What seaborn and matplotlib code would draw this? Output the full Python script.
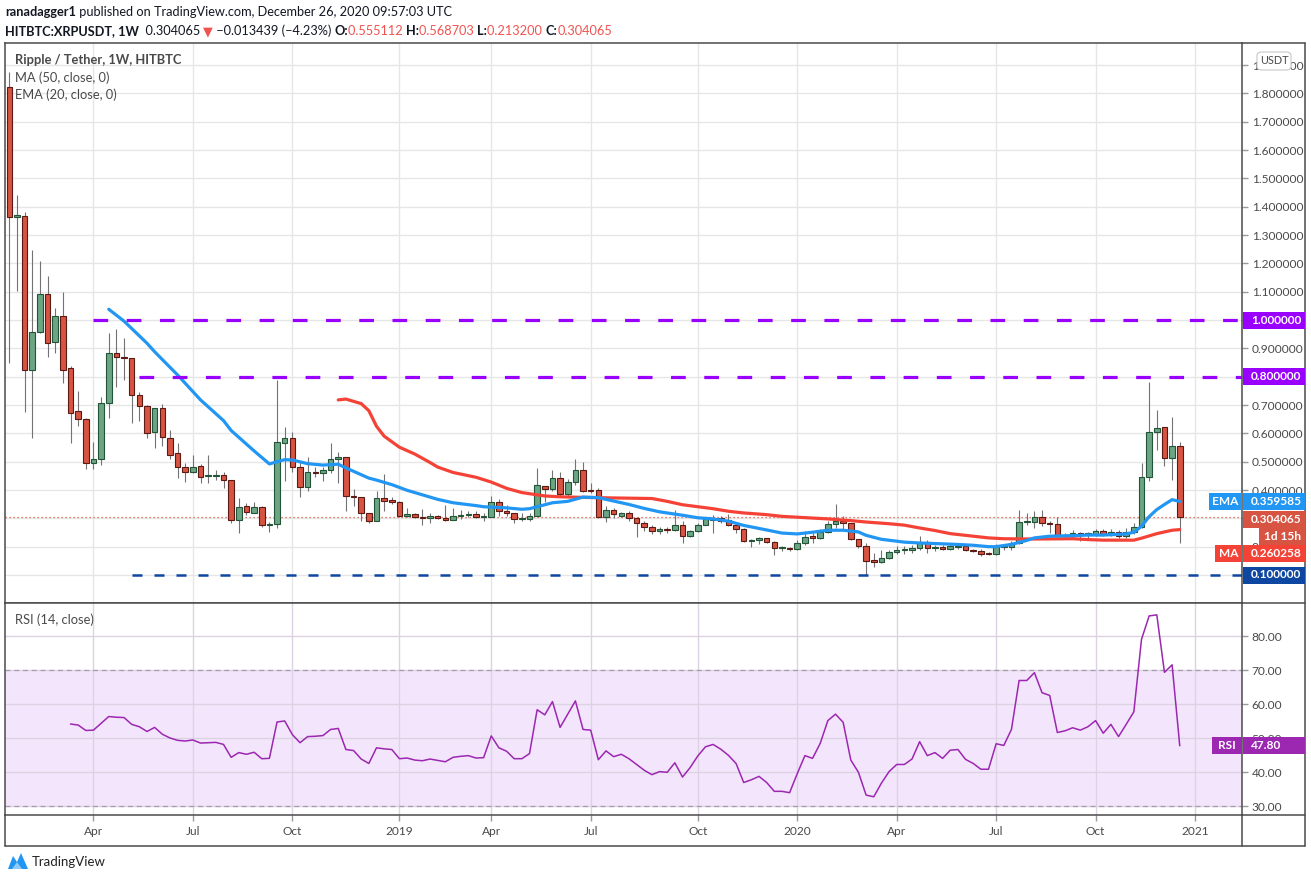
import numpy as np
import pandas as pd
import matplotlib
matplotlib.use('Agg')
import matplotlib.pyplot as plt
import seaborn as sns
from matplotlib.patches import Rectangle, Polygon, FancyBboxPatch

# ---------------- data ----------------
start_week = '2018-01-15'
opens = [1.821, 1.365, 1.368, 0.824, 0.959, 1.091, 0.924, 1.014, 0.829, 0.679,
         0.651, 0.494, 0.508, 0.706, 0.882, 0.868, 0.865, 0.734, 0.696, 0.606,
         0.688, 0.582, 0.529, 0.480, 0.465, 0.485, 0.449, 0.451, 0.453, 0.435,
         0.294, 0.343, 0.320, 0.339, 0.276, 0.280, 0.567, 0.582, 0.480, 0.409,
         0.462, 0.459, 0.471, 0.508, 0.515, 0.380, 0.374, 0.318, 0.292, 0.371,
         0.365, 0.359, 0.309, 0.314, 0.304, 0.300, 0.307, 0.300, 0.295, 0.307,
         0.312, 0.314, 0.305, 0.306, 0.359, 0.326, 0.318, 0.298, 0.298, 0.308,
         0.413, 0.402, 0.441, 0.385, 0.427, 0.471, 0.400, 0.399, 0.305, 0.331,
         0.310, 0.318, 0.301, 0.283, 0.269, 0.255, 0.262, 0.258, 0.277, 0.236,
         0.256, 0.278, 0.295, 0.300, 0.293, 0.276, 0.262, 0.220, 0.225, 0.229,
         0.217, 0.195, 0.197, 0.193, 0.213, 0.236, 0.231, 0.252, 0.281, 0.292,
         0.284, 0.227, 0.201, 0.153, 0.145, 0.160, 0.180, 0.189, 0.189, 0.196,
         0.217, 0.195, 0.199, 0.192, 0.198, 0.204, 0.190, 0.185, 0.177, 0.174,
         0.198, 0.198, 0.213, 0.286, 0.286, 0.305, 0.284, 0.279, 0.238, 0.242,
         0.247, 0.241, 0.244, 0.256, 0.241, 0.252, 0.238, 0.253, 0.270, 0.447,
         0.606, 0.623, 0.514, 0.555112]
highs = [1.876, 1.441, 1.382, 1.247, 1.209, 1.155, 1.041, 1.099, 0.838, 0.750,
         0.655, 0.571, 0.729, 0.953, 0.967, 0.938, 0.865, 0.747, 0.700, 0.690,
         0.704, 0.612, 0.567, 0.494, 0.524, 0.492, 0.524, 0.471, 0.465, 0.435,
         0.371, 0.353, 0.356, 0.344, 0.288, 0.788, 0.624, 0.606, 0.500, 0.515,
         0.482, 0.480, 0.565, 0.535, 0.515, 0.404, 0.374, 0.320, 0.398, 0.456,
         0.376, 0.361, 0.337, 0.318, 0.332, 0.318, 0.313, 0.347, 0.335, 0.329,
         0.326, 0.326, 0.320, 0.379, 0.368, 0.347, 0.318, 0.318, 0.318, 0.476,
         0.413, 0.471, 0.462, 0.439, 0.509, 0.500, 0.424, 0.408, 0.343, 0.335,
         0.324, 0.327, 0.305, 0.289, 0.277, 0.271, 0.269, 0.328, 0.289, 0.260,
         0.282, 0.302, 0.313, 0.308, 0.317, 0.281, 0.266, 0.227, 0.233, 0.231,
         0.219, 0.201, 0.198, 0.225, 0.254, 0.249, 0.263, 0.290, 0.349, 0.308,
         0.284, 0.227, 0.213, 0.177, 0.187, 0.190, 0.202, 0.202, 0.207, 0.237,
         0.225, 0.207, 0.207, 0.213, 0.213, 0.205, 0.192, 0.192, 0.180, 0.211,
         0.207, 0.219, 0.328, 0.319, 0.325, 0.328, 0.290, 0.305, 0.249, 0.258,
         0.251, 0.251, 0.263, 0.261, 0.263, 0.258, 0.266, 0.282, 0.496, 0.782,
         0.681, 0.623, 0.659, 0.568703]
lows = [0.847, 1.104, 0.676, 0.582, 0.955, 0.868, 0.885, 0.779, 0.567, 0.626,
        0.474, 0.474, 0.488, 0.653, 0.765, 0.788, 0.635, 0.644, 0.582, 0.547,
        0.554, 0.508, 0.441, 0.429, 0.459, 0.426, 0.426, 0.435, 0.406, 0.285,
        0.247, 0.312, 0.318, 0.268, 0.253, 0.265, 0.433, 0.465, 0.374, 0.398,
        0.445, 0.433, 0.461, 0.426, 0.327, 0.345, 0.292, 0.285, 0.290, 0.327,
        0.350, 0.305, 0.305, 0.300, 0.278, 0.285, 0.296, 0.292, 0.295, 0.296,
        0.306, 0.300, 0.292, 0.305, 0.308, 0.309, 0.283, 0.292, 0.292, 0.308,
        0.359, 0.398, 0.376, 0.376, 0.418, 0.394, 0.390, 0.302, 0.286, 0.302,
        0.305, 0.290, 0.234, 0.257, 0.243, 0.245, 0.248, 0.254, 0.212, 0.234,
        0.251, 0.275, 0.249, 0.284, 0.272, 0.250, 0.216, 0.198, 0.209, 0.213,
        0.171, 0.185, 0.183, 0.190, 0.207, 0.213, 0.227, 0.250, 0.266, 0.258,
        0.225, 0.196, 0.100, 0.127, 0.143, 0.157, 0.175, 0.175, 0.178, 0.190,
        0.178, 0.184, 0.188, 0.190, 0.193, 0.184, 0.180, 0.166, 0.171, 0.171,
        0.190, 0.190, 0.211, 0.275, 0.267, 0.272, 0.249, 0.235, 0.231, 0.231,
        0.219, 0.231, 0.239, 0.237, 0.237, 0.231, 0.229, 0.245, 0.266, 0.431,
        0.541, 0.484, 0.435, 0.213200]
closes = [1.365, 1.370, 0.824, 0.959, 1.091, 0.920, 1.014, 0.824, 0.673, 0.649,
          0.494, 0.508, 0.706, 0.882, 0.868, 0.865, 0.734, 0.696, 0.602, 0.688,
          0.586, 0.524, 0.482, 0.465, 0.482, 0.445, 0.451, 0.453, 0.435, 0.294,
          0.339, 0.324, 0.339, 0.276, 0.280, 0.571, 0.582, 0.480, 0.409, 0.462,
          0.459, 0.471, 0.508, 0.515, 0.380, 0.374, 0.318, 0.292, 0.371, 0.362,
          0.359, 0.309, 0.314, 0.304, 0.300, 0.307, 0.300, 0.295, 0.307, 0.312,
          0.314, 0.306, 0.308, 0.359, 0.326, 0.318, 0.298, 0.299, 0.308, 0.418,
          0.402, 0.441, 0.385, 0.427, 0.471, 0.397, 0.397, 0.304, 0.331, 0.314,
          0.318, 0.301, 0.283, 0.269, 0.255, 0.262, 0.258, 0.277, 0.238, 0.256,
          0.278, 0.296, 0.298, 0.291, 0.276, 0.262, 0.219, 0.225, 0.230, 0.217,
          0.195, 0.199, 0.193, 0.213, 0.234, 0.231, 0.252, 0.281, 0.292, 0.284,
          0.227, 0.201, 0.151, 0.145, 0.160, 0.180, 0.190, 0.192, 0.196, 0.217,
          0.196, 0.200, 0.191, 0.204, 0.204, 0.190, 0.183, 0.174, 0.173, 0.198,
          0.201, 0.213, 0.286, 0.290, 0.305, 0.282, 0.279, 0.237, 0.242, 0.247,
          0.241, 0.247, 0.256, 0.241, 0.252, 0.238, 0.253, 0.270, 0.447, 0.606,
          0.620, 0.514, 0.556, 0.304065]

# EMA(20) and MA(50) values at given bar numbers
ema_bar = [13, 15, 18, 19, 22, 25, 28, 29, 32, 34, 35, 36, 37, 39, 41, 43, 44, 47, 48, 50,
           52, 54, 56, 58, 61, 62, 65, 67, 68, 70, 71, 73, 75, 77, 79, 81, 83, 85, 88, 90,
           92, 94, 96, 99, 101, 103, 105, 107, 109, 111, 112, 114, 117, 119, 121, 123, 126,
           128, 129, 131, 133, 134, 136, 139, 141, 143, 146, 147, 148, 149, 150, 151, 152, 153]
ema_val = [1.038, 0.996, 0.918, 0.888, 0.806, 0.718, 0.645, 0.610, 0.538, 0.492, 0.500, 0.507,
           0.506, 0.493, 0.488, 0.491, 0.478, 0.442, 0.435, 0.419, 0.399, 0.383, 0.367, 0.355,
           0.345, 0.341, 0.337, 0.332, 0.334, 0.348, 0.355, 0.360, 0.375, 0.373, 0.361, 0.349,
           0.335, 0.323, 0.311, 0.302, 0.298, 0.290, 0.275, 0.259, 0.248, 0.245, 0.251, 0.258,
           0.258, 0.252, 0.240, 0.226, 0.216, 0.213, 0.211, 0.209, 0.205, 0.200, 0.200, 0.208,
           0.222, 0.231, 0.237, 0.239, 0.241, 0.241, 0.245, 0.251, 0.272, 0.306, 0.331, 0.349,
           0.366, 0.359585]
ma_bar = [43, 44, 46, 47, 48, 49, 51, 53, 55, 56, 58, 61, 63, 65, 67, 70, 72, 75, 79, 84,
          86, 88, 90, 92, 94, 96, 99, 101, 103, 105, 107, 110, 112, 115, 117, 119, 121, 123,
          126, 128, 130, 134, 139, 141, 143, 147, 148, 149, 150, 151, 152, 153]
ma_val = [0.718, 0.721, 0.705, 0.680, 0.625, 0.590, 0.551, 0.527, 0.497, 0.481, 0.462, 0.445,
          0.428, 0.406, 0.391, 0.379, 0.376, 0.374, 0.372, 0.370, 0.360, 0.348, 0.341, 0.334,
          0.325, 0.319, 0.313, 0.307, 0.304, 0.301, 0.298, 0.292, 0.287, 0.281, 0.276, 0.266,
          0.257, 0.246, 0.237, 0.231, 0.228, 0.227, 0.228, 0.225, 0.223, 0.223, 0.230, 0.238,
          0.246, 0.252, 0.258, 0.260258]

rsi_first_bar = 8
rsi = [54.2, 53.9, 52.3, 52.4, 54.4, 56.4, 56.2, 56.1, 54.1, 53.4,
       52.0, 53.2, 51.2, 50.1, 49.4, 49.2, 49.5, 48.6, 48.7, 48.8,
       48.2, 44.4, 45.8, 45.3, 45.9, 44.0, 44.1, 54.8, 55.1, 51.1,
       48.7, 50.5, 50.6, 50.8, 52.6, 52.9, 46.7, 46.4, 43.9, 42.6,
       47.2, 46.9, 46.7, 44.0, 44.2, 43.6, 43.4, 43.9, 43.5, 43.1,
       44.4, 44.7, 44.9, 44.2, 44.3, 50.7, 47.2, 46.2, 44.0, 44.0,
       45.5, 58.4, 56.9, 60.8, 53.2, 57.1, 61.0, 52.6, 52.4, 43.7,
       46.3, 44.6, 45.3, 44.0, 42.3, 40.6, 39.3, 40.2, 40.0, 42.8,
       38.6, 41.4, 44.8, 47.5, 48.2, 46.8, 45.0, 42.6, 37.0, 37.8,
       38.8, 37.0, 34.4, 34.4, 34.0, 39.6, 44.9, 44.1, 48.5, 55.2,
       57.1, 54.7, 43.6, 40.0, 33.3, 32.8, 36.8, 40.2, 42.3, 42.3,
       43.9, 49.0, 44.9, 45.8, 44.1, 46.5, 46.7, 43.8, 42.6, 40.9,
       40.9, 48.4, 47.9, 52.6, 67.0, 67.0, 69.3, 63.4, 62.6, 51.7,
       52.2, 53.1, 52.4, 53.4, 55.2, 51.5, 54.1, 50.5, 54.1, 57.8,
       79.1, 86.0, 86.3, 69.4, 71.6, 47.80]

level_values = [1.0, 0.8, 0.1]
level_from_bar = [11, 17, 16]
level_labels = ['1.000000', '0.800000', '0.100000']
price_ticks = [round(0.1 * k, 1) for k in range(1, 20)]
rsi_ticks = [30, 40, 50, 60, 70, 80]

# ---------------- styling ----------------
W, H = 1311, 881
sns.set_theme(style='white')
plt.rcParams['font.family'] = ['Lato', 'DejaVu Sans']

UP, DOWN = '#6ba583', '#d75442'
UP_E, DOWN_E = '#225437', '#5b1a13'
WICK = '#737375'
FRAME = '#4a4a4a'
GRID = '#e6e6e6'
TXT = '#4a4a4a'
PURPLE = '#9900ff'
NAVY = '#0d47a1'
EMA_C = '#2196f3'
MA_C = '#f44336'
RSI_C = '#9c27b0'

def fx(px):
    return px / W

def fy(py):
    return 1 - py / H

fig = plt.figure(figsize=(W / 100, H / 100), dpi=100)
fig.patch.set_facecolor('white')

L, R = 5, 1242
ax = fig.add_axes([fx(L), fy(603), fx(R) - fx(L), fy(43) - fy(603)])
ax2 = fig.add_axes([fx(L), fy(815), fx(R) - fx(L), fy(603) - fy(815)])

n = len(closes)
bars = np.arange(n)
weeks = pd.date_range(start_week, periods=n + 6, freq='W-MON')

# x mapping: bar centre at pixel 9.3 + i*7.65
xl = ((L - 9.3) / 7.65, (R - 9.3) / 7.65)

# quarter ticks: first weekly bar starting in a new quarter
tick_pos, tick_lab = [], []
for i in range(1, len(weeks)):
    q0 = (weeks[i - 1].year, (weeks[i - 1].month - 1) // 3)
    q1 = (weeks[i].year, (weeks[i].month - 1) // 3)
    if q0 != q1:
        tick_pos.append(i)
        tick_lab.append(str(weeks[i].year) if weeks[i].month <= 3 else weeks[i].strftime('%b'))

for a in (ax, ax2):
    a.set_facecolor('white')
    a.set_xlim(*xl)
    a.set_xticks(tick_pos)
    for s in a.spines.values():
        s.set_color(FRAME)
        s.set_linewidth(1.1)
    a.grid(True, color=GRID, lw=1.0, zorder=0)
    a.set_axisbelow(True)

ax.set_ylim(0.1 - 28 / 283.3, 0.1 + 532 / 283.3)
ax2.set_ylim(70 - (815 - 670.3) / 3.4, 70 + (670.3 - 603) / 3.4)

# ---------- candles ----------
O = np.array(opens); Hh = np.array(highs); Lo = np.array(lows); C = np.array(closes)
up = C >= O
ax.vlines(bars, Lo, Hh, color=WICK, lw=0.8, zorder=3)
body_lo = np.minimum(O, C)
body_h = np.maximum(np.abs(C - O), 0.0025)
ax.bar(bars, body_h, bottom=body_lo, width=0.72,
       color=np.where(up, UP, DOWN), edgecolor=np.where(up, UP_E, DOWN_E),
       linewidth=0.8, zorder=4)

# ---------- MA / EMA ----------
df_ma = pd.DataFrame({'bar': ma_bar, 'v': ma_val})
df_ema = pd.DataFrame({'bar': ema_bar, 'v': ema_val})
sns.lineplot(data=df_ma, x='bar', y='v', ax=ax, color=MA_C, lw=2.3, zorder=5, legend=False)
sns.lineplot(data=df_ema, x='bar', y='v', ax=ax, color=EMA_C, lw=2.3, zorder=5, legend=False)

# ---------- horizontal levels ----------
for v, b in zip(level_values, level_from_bar):
    if v >= 0.5:
        ax.hlines(v, b, xl[1], color=PURPLE, lw=2.3, linestyles=(0, (4.6, 5.8)), zorder=6)
    else:
        ax.hlines(v, b, xl[1], color=NAVY, lw=1.8, linestyles=(0, (4.0, 4.8)), zorder=6)
ax.axhline(closes[-1], color=DOWN, lw=0.9, ls=(0, (1, 2.2)), zorder=2)

# ---------- RSI ----------
ax2.axhspan(30, 70, color='#f3e6fc', zorder=0, lw=0)
ax2.grid(True, color='#dcd2e4', lw=1.0)
ax2.axhline(70, color='#a59bab', lw=0.9, ls=(0, (4, 3)), zorder=1)
ax2.axhline(30, color='#a59bab', lw=0.9, ls=(0, (4, 3)), zorder=1)
df_rsi = pd.DataFrame({'bar': np.arange(rsi_first_bar, rsi_first_bar + len(rsi)), 'rsi': rsi})
sns.lineplot(data=df_rsi, x='bar', y='rsi', ax=ax2, color=RSI_C, lw=1.1, zorder=4, legend=False)

# ---------- axes ticks ----------
ax.set_xlabel(''); ax.set_ylabel(''); ax2.set_xlabel(''); ax2.set_ylabel('')
ax.yaxis.tick_right()
ax.set_yticks(price_ticks)
ax.set_yticklabels([f'{v:.6f}' for v in price_ticks])
ax.tick_params(axis='y', which='both', right=True, left=False, direction='out', length=4,
               width=1, color='#9a9a9a', labelsize=8.6, labelcolor=TXT, pad=3)
ax.tick_params(axis='x', bottom=False, labelbottom=False)
ax2.yaxis.tick_right()
ax2.set_yticks(rsi_ticks)
ax2.set_yticklabels([f'{v:.2f}' for v in rsi_ticks])
ax2.tick_params(axis='y', right=True, left=False, direction='out', length=4, width=1,
                color='#9a9a9a', labelsize=8.6, labelcolor=TXT, pad=3)
ax2.set_xticklabels(tick_lab)
ax2.tick_params(axis='x', bottom=True, direction='out', length=4, width=1, color='#9a9a9a',
                labelsize=8.6, labelcolor=TXT, pad=4)

# ---------- frame pieces outside axes ----------
def fline(x0, y0, x1, y1, c=FRAME, lw=1.1):
    fig.add_artist(plt.Line2D([fx(x0), fx(x1)], [fy(y0), fy(y1)], color=c, lw=lw,
                              transform=fig.transFigure))

fline(R, 43, 1305, 43)
fline(1305, 43, 1305, 846)
fline(R, 603, 1305, 603)
fline(L, 846, 1305, 846)
fline(L, 815, L, 846)
fline(R, 815, R, 846)
fline(R, 815, 1305, 815)

# ---------- price-axis label boxes ----------
fig.canvas.draw()

def ypix(a, v):
    return H - a.transData.transform((0, v))[1]

def tag(yc, text, fc, left=None, left_w=32, x0=R + 1, x1=1305, tc='white', center=False):
    h = 17
    fig.add_artist(Rectangle((fx(x0), fy(yc + h / 2)), fx(x1) - fx(x0), h / H,
                             transform=fig.transFigure, fc=fc, ec='none', zorder=20))
    if center:
        fig.text(fx((x0 + x1) / 2), fy(yc), text, color=tc, fontsize=8.6, fontweight='bold',
                 va='center', ha='center', zorder=21)
    else:
        fig.text(fx(1251), fy(yc), text, color=tc, fontsize=8.6, fontweight='bold',
                 va='center', ha='left', zorder=21)
    if left:
        fig.add_artist(Rectangle((fx(R - left_w), fy(yc + h / 2)), left_w / W, h / H,
                                 transform=fig.transFigure, fc=fc, ec='none', zorder=20))
        fig.text(fx(R - left_w / 2), fy(yc), left, color='white', fontsize=8.6,
                 fontweight='bold', va='center', ha='center', zorder=21)

for v, lab in zip(level_values, level_labels):
    tag(ypix(ax, v), lab, PURPLE if v >= 0.5 else NAVY)
tag(ypix(ax, ema_val[-1]), f'{ema_val[-1]:.6f}', EMA_C, left='EMA', left_w=33)
tag(ypix(ax, closes[-1]) + 2, f'{closes[-1]:.6f}', DOWN)
tag(ypix(ax, closes[-1]) + 19, '1d 15h', DOWN, x0=1259, center=True)
tag(ypix(ax, ma_val[-1]) + 24, f'{ma_val[-1]:.6f}', MA_C, left='MA', left_w=27)
tag(ypix(ax2, rsi[-1]), f'{rsi[-1]:.2f}', RSI_C, left='RSI', left_w=30)

# USDT badge
fig.add_artist(FancyBboxPatch((fx(1257), fy(70)), 34 / W, 18 / H,
                              boxstyle='round,pad=0,rounding_size=0.004',
                              transform=fig.transFigure, fc='white', ec='#c8c8c8', lw=0.8,
                              zorder=22))
fig.text(fx(1274), fy(61), 'USDT', color=TXT, fontsize=7.8, ha='center', va='center', zorder=23)

# ---------- legends / header ----------
renderer = fig.canvas.get_renderer()

def seq_text(x, y, parts, size):
    for s, col, wt in parts:
        t = fig.text(fx(x), fy(y), s, color=col, fontsize=size, fontweight=wt,
                     ha='left', va='center')
        x += t.get_window_extent(renderer=renderer).width

BLK = '#131722'
RED = '#ef5350'
seq_text(5, 12, [('ranadagger1', BLK, 'bold'),
                 (' published on TradingView.com, December 26, 2020 09:57:03 UTC', BLK, 'normal')], 9.2)
seq_text(5, 31, [('HITBTC:XRPUSDT, 1W', BLK, 'bold'), ('  0.304065 ', BLK, 'normal'),
                 ('\u25BC', RED, 'normal'), (' \u22120.013439 (\u22124.23%) ', BLK, 'normal'),
                 ('O:', BLK, 'bold'), ('0.555112 ', RED, 'normal'),
                 ('H:', BLK, 'bold'), ('0.568703 ', RED, 'normal'),
                 ('L:', BLK, 'bold'), ('0.213200 ', RED, 'normal'),
                 ('C:', BLK, 'bold'), ('0.304065', RED, 'normal')], 9.2)

fig.text(fx(15), fy(60), 'Ripple / Tether, 1W, HITBTC', color=TXT, fontsize=9.3,
         fontweight='bold', ha='left', va='center')
fig.text(fx(15), fy(77.5), 'MA (50, close, 0)', color=TXT, fontsize=9.3, ha='left', va='center')
fig.text(fx(15), fy(94.5), 'EMA (20, close, 0)', color=TXT, fontsize=9.3, ha='left', va='center')
fig.text(fx(15), fy(620), 'RSI (14, close)', color=TXT, fontsize=9.3, ha='left', va='center')

# ---------- footer logo ----------
fig.add_artist(Polygon([(fx(8), fy(869)), (fx(13), fy(856)), (fx(17), fy(862)), (fx(21), fy(853)),
                        (fx(28), fy(869))], closed=True, transform=fig.transFigure,
                       fc='#2196f3', ec='none'))
fig.add_artist(Polygon([(fx(12), fy(869)), (fx(17), fy(862)), (fx(22), fy(869))], closed=True,
                       transform=fig.transFigure, fc='#90caf9', ec='none'))
fig.text(fx(32), fy(862), 'TradingView', color='#222222', fontsize=9.5, ha='left', va='center')

fig.savefig('out.png', dpi=100, facecolor='white')
